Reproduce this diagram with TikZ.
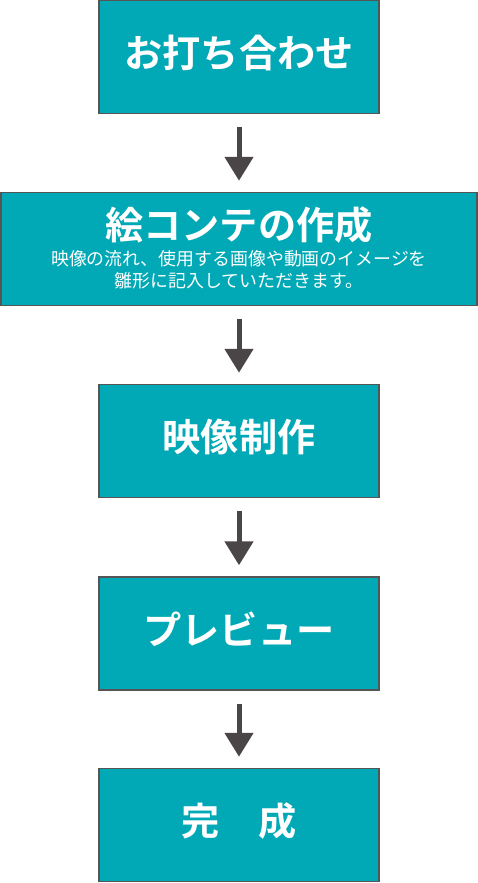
\documentclass[tikz,border=0pt]{standalone}
\usepackage{fontspec}
\setmainfont{Noto Sans CJK JP}
\newfontfamily\cjkbold{Noto Sans CJK JP Bold}
\usetikzlibrary{arrows.meta}
\definecolor{boxteal}{HTML}{00A9B5}
\definecolor{boxedge}{HTML}{555555}
\definecolor{arrgray}{HTML}{4A4546}
\tikzset{
  stepbox/.style={draw=boxedge, line width=1.5pt, fill=boxteal, minimum height=113pt, inner sep=0pt},
  narrowbox/.style={stepbox, minimum width=280pt},
  widebox/.style={stepbox, minimum width=476pt},
  titletext/.style={text=white, font=\cjkbold\fontsize{38.2}{40}\selectfont, inner sep=0pt},
  subtext/.style={text=white, font=\fontsize{17.9}{22}\selectfont, align=center, inner sep=0pt},
  flowarrow/.style={draw=arrgray, line width=5pt, -{Triangle[width=28pt,length=24pt]}}
}
\begin{document}
\begin{tikzpicture}[x=1pt,y=-1pt]
\useasboundingbox (0,0) rectangle (478,883);
\node[narrowbox] (b1) at (239,57) {};
\node[widebox] (b2) at (239,249) {};
\node[narrowbox] (b3) at (239,441) {};
\node[narrowbox] (b4) at (239,633.5) {};
\node[narrowbox] (b5) at (239,825) {};
\node[titletext] (t1) at (239,53) {お打ち合わせ};
\node[titletext] (t2) at (239,225) {絵コンテの作成};
\node[subtext] (s2) at (239,270) {映像の流れ、使用する画像や動画のイメージを\\雛形に記入していただきます。};
\node[titletext] (t3) at (239,437) {映像制作};
\node[titletext] (t4) at (239,629) {プレビュー};
\node[titletext] (t5) at (239,821) {完　成};
\draw[flowarrow] ([yshift=-13pt]b1.south) -- ([yshift=11pt]b2.north);
\draw[flowarrow] ([yshift=-13pt]b2.south) -- ([yshift=11pt]b3.north);
\draw[flowarrow] ([yshift=-13pt]b3.south) -- ([yshift=11pt]b4.north);
\draw[flowarrow] ([yshift=-13pt]b4.south) -- ([yshift=11pt]b5.north);
\end{tikzpicture}
\end{document}
